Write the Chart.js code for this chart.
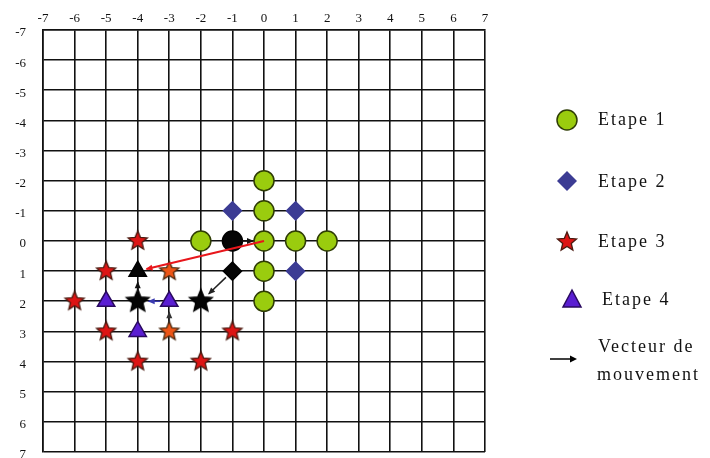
<!DOCTYPE html>
<html>
<head>
<meta charset="utf-8">
<script src="https://cdn.jsdelivr.net/npm/chart.js@4.4.1/dist/chart.umd.min.js"></script>
<style>
  html, body { margin: 0; padding: 0; background: #fff; }
  canvas { display: block; }
</style>
</head>
<body>
<canvas id="chart" width="710" height="458"></canvas>
<script>
// axis range (grid cells go from -7 to 7 both ways)
const axisMin = -7;
const axisMax = 7;
const tickLabels = ['-7', '-6', '-5', '-4', '-3', '-2', '-1', '0', '1', '2', '3', '4', '5', '6', '7'];

// points per step [x, y]
const etape1 = [[0, -2], [0, -1], [-2, 0], [0, 0], [1, 0], [2, 0], [0, 1], [0, 2]];
const etape1Choix = [[-1, 0]];
const etape2 = [[-1, -1], [1, -1], [1, 1]];
const etape2Choix = [[-1, 1]];
const etape3 = [[-4, 0], [-5, 1], [-6, 2], [-5, 3], [-1, 3], [-4, 4], [-2, 4]];
const etape3Orange = [[-3, 1], [-3, 3]];
const etape3Choix = [[-4, 2], [-2, 2]];
const etape4 = [[-5, 2], [-3, 2], [-4, 3]];
const etape4Choix = [[-4, 1]];

// movement vectors [x1, y1, x2, y2]
const vecteurs = [
  [-1, 0, 0, 0],
  [0, 0, -4, 1],
  [-1, 1, -2, 2],
  [-4, 2, -4, 1],
  [-3, 2, -4, 2],
  [-3, 3, -3, 2],
];
const vecteurColors = ['#111', '#e8161b', '#222', '#111', '#3a3ab0', '#333'];

const legendLabels = ['Etape 1', 'Etape 2', 'Etape 3', 'Etape 4', 'Vecteur de', 'mouvement'];

const toXY = arr => arr.map(p => ({x: p[0], y: p[1]}));

function makeStar(fill, stroke, r) {
  const size = Math.ceil(r * 2 + 4);
  const c = document.createElement('canvas');
  c.width = size;
  c.height = size;
  const ctx = c.getContext('2d');
  const cx = size / 2, cy = size / 2;
  ctx.beginPath();
  for (let i = 0; i < 10; i++) {
    const rad = i % 2 === 0 ? r : r * 0.45;
    const a = -Math.PI / 2 + i * Math.PI / 5;
    const px = cx + rad * Math.cos(a);
    const py = cy + rad * Math.sin(a);
    if (i === 0) ctx.moveTo(px, py); else ctx.lineTo(px, py);
  }
  ctx.closePath();
  ctx.fillStyle = fill;
  ctx.fill();
  ctx.lineWidth = 1.3;
  ctx.strokeStyle = stroke;
  ctx.stroke();
  return c;
}

const starRed = makeStar('#dd1414', '#4a1a10', 10);
const starOrange = makeStar('#ee5516', '#4a2a10', 10);
const starBlack = makeStar('#050505', '#000', 12);

const green = '#9acc0e';
const greenBorder = '#2f3d05';
const navy = '#3c3c94';
const purple = '#5a1ed2';

function ds(data, style, color, border, radius) {
  return {
    data: toXY(data),
    pointStyle: style,
    pointRadius: radius,
    pointHoverRadius: radius,
    backgroundColor: color,
    borderColor: border,
    pointBorderWidth: 1.5,
    showLine: false,
  };
}

const arrowPlugin = {
  id: 'arrows',
  afterDatasetsDraw(chart) {
    const {ctx, scales: {x, y}} = chart;
    ctx.save();
    vecteurs.forEach((v, i) => {
      let x1 = x.getPixelForValue(v[0]), y1 = y.getPixelForValue(v[1]);
      let x2 = x.getPixelForValue(v[2]), y2 = y.getPixelForValue(v[3]);
      const len = Math.hypot(x2 - x1, y2 - y1);
      const ux = (x2 - x1) / len, uy = (y2 - y1) / len;
      const long = len > 60;
      const s = long ? 0 : 9, e = long ? 9 : 11;
      x1 += ux * s; y1 += uy * s;
      x2 -= ux * e; y2 -= uy * e;
      ctx.strokeStyle = vecteurColors[i];
      ctx.fillStyle = vecteurColors[i];
      ctx.lineWidth = long ? 2 : 1.5;
      ctx.beginPath();
      ctx.moveTo(x1, y1);
      ctx.lineTo(x2, y2);
      ctx.stroke();
      const h = 6, w = 3;
      ctx.beginPath();
      ctx.moveTo(x2 + ux * 1, y2 + uy * 1);
      ctx.lineTo(x2 - ux * h - uy * w, y2 - uy * h + ux * w);
      ctx.lineTo(x2 - ux * h + uy * w, y2 - uy * h - ux * w);
      ctx.closePath();
      ctx.fill();
    });
    ctx.restore();
  }
};

const legendPlugin = {
  id: 'customLegend',
  afterDraw(chart) {
    const ctx = chart.ctx;
    ctx.save();
    // markers
    ctx.lineWidth = 1.5;
    ctx.fillStyle = green;
    ctx.strokeStyle = greenBorder;
    ctx.beginPath();
    ctx.arc(567, 120, 10, 0, Math.PI * 2);
    ctx.fill();
    ctx.stroke();

    ctx.fillStyle = navy;
    ctx.beginPath();
    ctx.moveTo(567, 171); ctx.lineTo(577, 181); ctx.lineTo(567, 191); ctx.lineTo(557, 181);
    ctx.closePath();
    ctx.fill();

    ctx.drawImage(starRed, 567 - starRed.width / 2, 242 - starRed.height / 2);

    ctx.fillStyle = purple;
    ctx.strokeStyle = '#2a0a60';
    ctx.beginPath();
    ctx.moveTo(572, 290); ctx.lineTo(581, 307); ctx.lineTo(563, 307);
    ctx.closePath();
    ctx.fill();
    ctx.stroke();

    ctx.strokeStyle = '#000';
    ctx.fillStyle = '#000';
    ctx.beginPath();
    ctx.moveTo(550, 359); ctx.lineTo(572, 359);
    ctx.stroke();
    ctx.beginPath();
    ctx.moveTo(577, 359); ctx.lineTo(570, 355.5); ctx.lineTo(570, 362.5);
    ctx.closePath();
    ctx.fill();

    // texts
    ctx.font = '18px "Liberation Serif", serif';
    ctx.letterSpacing = '2px';
    ctx.fillStyle = '#111';
    ctx.textBaseline = 'middle';
    const pos = [[598, 120], [598, 182], [598, 242], [602, 300], [598, 347], [597, 375]];
    legendLabels.forEach((t, i) => ctx.fillText(t, pos[i][0], pos[i][1]));
    ctx.restore();
  }
};

const tickFont = {family: '"Liberation Serif", serif', size: 13};

new Chart(document.getElementById('chart'), {
  type: 'scatter',
  data: {
    datasets: [
      ds(etape1, 'circle', green, greenBorder, 10),
      ds(etape1Choix, 'circle', '#050505', '#000', 10),
      ds(etape2, 'rectRot', navy, navy, 9),
      ds(etape2Choix, 'rectRot', '#050505', '#000', 9),
      ds(etape3, starRed, '#dd1414', '#000', 10),
      ds(etape3Orange, starOrange, '#ee5516', '#000', 10),
      ds(etape3Choix, starBlack, '#000', '#000', 12),
      ds(etape4, 'triangle', purple, '#2a0a60', 10),
      ds(etape4Choix, 'triangle', '#050505', '#000', 10),
    ],
  },
  options: {
    responsive: false,
    animation: false,
    events: [],
    layout: {autoPadding: false, padding: {left: 0, top: 0, right: 225, bottom: 6}},
    plugins: {legend: {display: false}, tooltip: {enabled: false}},
    scales: {
      x: {
        type: 'linear',
        position: 'top',
        min: axisMin,
        max: axisMax,
        afterFit: s => { s.height = 30; s.paddingLeft = 0; s.paddingRight = 0; },
        ticks: {
          stepSize: 1,
          color: '#111',
          font: tickFont,
          padding: 4,
          callback: v => tickLabels[v - axisMin],
        },
        grid: {color: '#111', lineWidth: 1.6, drawTicks: false},
        border: {color: '#111', width: 1.6},
      },
      y: {
        type: 'linear',
        reverse: true,
        min: axisMin,
        max: axisMax,
        afterFit: s => { s.width = 43; s.paddingTop = 0; s.paddingBottom = 0; },
        ticks: {
          stepSize: 1,
          color: '#111',
          font: tickFont,
          padding: 17,
          labelOffset: 3,
          callback: v => tickLabels[v - axisMin],
        },
        grid: {color: '#111', lineWidth: 1.6, drawTicks: false},
        border: {color: '#111', width: 1.6},
      },
    },
  },
  plugins: [arrowPlugin, legendPlugin],
});
</script>
</body>
</html>
